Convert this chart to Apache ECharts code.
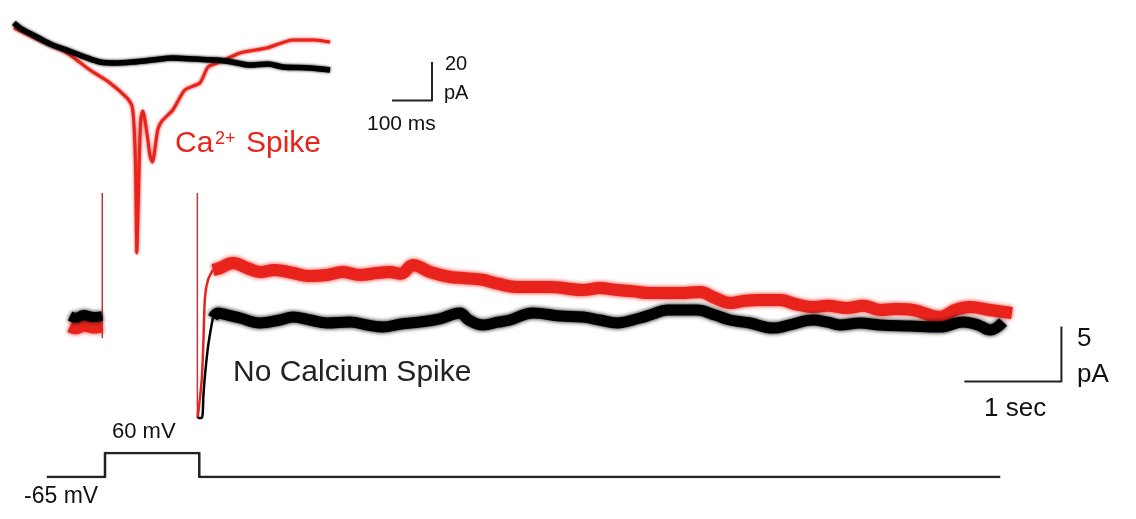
<!DOCTYPE html>
<html>
<head>
<meta charset="utf-8">
<script src="https://cdn.jsdelivr.net/npm/echarts@6/dist/echarts.min.js"></script>
<style>
  html, body { margin: 0; padding: 0; background: #fff; }
  #chart { width: 1136px; height: 519px; }
</style>
</head>
<body>
<div id="chart"></div>
<script>
// inset: [ms, pA]
const insetBlack = [
  [5, -4.7], [20, -7.3], [52, -10.9], [95, -15.6], [137, -18.8], [182, -22.4],
  [220, -25.0], [260, -25.5], [302, -25.0], [350, -24.0], [402, -22.9], [460, -23.5],
  [512, -24.0], [550, -25.0], [595, -26.6], [640, -26.0], [677, -27.6], [745, -28.1], [795, -29.2]
];
const insetRed = [
  [5, -7.3], [52, -12.0], [137, -20.3], [195, -29.2], [245, -35.9], [288, -43.8],
  [300, -47.9], [305, -57.8], [309, -81.3], [312, -124.5], [316, -96.4],
  [319, -70.3], [322, -54.7], [327, -50.5], [332, -54.7], [340, -66.1],
  [345, -73.9], [351, -77.1], [355, -73.9], [360, -66.1], [365, -59.9],
  [375, -55.7], [402, -50.0], [432, -39.6], [470, -35.9], [490, -27.6],
  [520, -25.0], [570, -20.3], [637, -17.7], [702, -13.5], [757, -13.5], [795, -14.6]
];
// main traces: [s, pA]
const mainBlackBase = [[-0.36, 0.36], [-0.3, 0.2], [-0.22, 0.45], [-0.12, 0.27], [-0.03, 0.36]];
const mainRedBase = [[-0.36, -0.55], [-0.3, -0.7], [-0.22, -0.45], [-0.12, -0.64], [-0.03, -0.55]];
const mainRedFast = [[0.955, -8.9], [0.997, -5.45], [1.015, -1.82], [1.031, 2.09], [1.062, 3.64], [1.113, 4.55]];
const mainBlackFast = [[0.955, -8.9], [0.997, -8.9], [1.015, -6.8], [1.031, -5.0], [1.062, -2.45], [1.093, -0.73], [1.113, 0.2]];
const mainRed = [
  [1.113, 4.55], [1.186, 4.73], [1.32, 5.18], [1.464, 4.73], [1.598, 4.36], [1.75, 4.55], [1.938, 4.27],
  [2.1, 4.0], [2.289, 4.09], [2.45, 4.36], [2.629, 4.09], [2.8, 4.27], [2.938, 4.36], [3.05, 4.2],
  [3.175, 5.0], [3.25, 4.8], [3.351, 4.36], [3.557, 3.91], [3.72, 3.8],
  [3.897, 3.64], [4.05, 3.3], [4.247, 3.0], [4.588, 3.0], [4.928, 2.73], [5.1, 2.9], [5.278, 2.73], [5.45, 2.6], [5.619, 2.45],
  [5.928, 2.45], [6.134, 2.55], [6.289, 2.0], [6.443, 1.55], [6.6, 1.75], [6.753, 1.82], [6.959, 1.82],
  [7.12, 1.45], [7.299, 1.18], [7.45, 1.3], [7.649, 1.09], [7.82, 1.3], [7.99, 0.91], [8.15, 1.0], [8.33, 0.91], [8.608, 0.27], [8.763, 0.91],
  [8.918, 1.18], [9.124, 0.91], [9.35, 0.64]
];
const mainBlack = [
  [1.113, 0.2], [1.165, 0.64], [1.216, 0.55], [1.392, 0.18], [1.598, -0.27], [1.804, 0],
  [1.938, 0.27], [2.113, 0], [2.289, -0.27], [2.526, -0.18], [2.7, -0.45], [2.866, -0.64], [3.05, -0.36], [3.247, -0.18],
  [3.45, 0.1], [3.66, 0.64], [3.75, 0], [3.897, -0.45], [4.05, -0.2], [4.175, 0], [4.412, 0.64], [4.691, 0.36], [4.928, 0.27],
  [5.1, 0], [5.278, -0.27], [5.515, 0.18], [5.65, 0.55], [5.794, 0.91], [6.103, 0.91], [6.289, 0.45], [6.443, 0],
  [6.649, -0.27], [6.887, -0.73], [7.062, -0.45], [7.299, 0], [7.45, -0.2], [7.577, -0.45], [7.784, -0.27],
  [7.99, -0.45], [8.299, -0.55], [8.608, -0.64], [8.845, -0.18], [9.0, -0.45], [9.124, -0.91], [9.258, -0.18]
];
const artifactOn = [[-0.028, 11.55], [-0.028, -1.64]];
const artifactOff = [[0.952, 11.55], [0.952, -8.9]];
// command voltage: [s, mV]
const voltage = [[-0.6, -65], [0, -65], [0, 60], [0.972, 60], [0.972, -65], [9.23, -65]];
// scale bars
const insetBar = [[950, -45], [1050, -45], [1050, -25]];
const mainBar = [[8.86, -5.6], [9.86, -5.6], [9.86, -0.6]];

const RED = '#e8231c';
const font = '"Liberation Sans", Arial, sans-serif';

function line(name, data, x, color, width, blur, z, smooth) {
  return {
    name: name, type: 'line', data: data, xAxisIndex: x, yAxisIndex: x,
    symbol: 'none', silent: true, z: z || 2, smooth: smooth || false,
    lineStyle: { color: color, width: width, join: 'round', cap: 'butt',
      shadowBlur: blur || 0, shadowColor: color }
  };
}
function txt(text, x, y, size, color) {
  return { type: 'text', x: x, y: y, silent: true,
    style: { text: text, font: size + 'px ' + font, fill: color, verticalAlign: 'middle', align: 'left' } };
}

let myChart = echarts.init(document.getElementById('chart'));
myChart.setOption({
  animation: false,
  backgroundColor: '#fff',
  grid: [
    { left: 12, top: 14, width: 440, height: 240 },
    { left: 8, top: 177, width: 1067, height: 330 },
    { left: 8, top: 453, width: 1067, height: 24 }
  ],
  xAxis: [
    { type: 'value', gridIndex: 0, min: 0, max: 1100, show: false },
    { type: 'value', gridIndex: 1, min: -1, max: 10, show: false },
    { type: 'value', gridIndex: 2, min: -1, max: 10, show: false }
  ],
  yAxis: [
    { type: 'value', gridIndex: 0, min: -125, max: 0, show: false },
    { type: 'value', gridIndex: 1, min: -17, max: 13, show: false },
    { type: 'value', gridIndex: 2, min: -65, max: 60, show: false }
  ],
  series: [
    // inset
    line('insetRed', insetRed, 0, RED, 3, 3, 3, 0.2),
    line('insetBlack', insetBlack, 0, '#000', 5.5, 3, 5, 0.3),
    line('insetBar', insetBar, 0, '#222', 2, 0, 5),
    // main
    line('artOn', artifactOn, 1, '#b83a3a', 1.5, 0, 2),
    line('artOff', artifactOff, 1, '#b83a3a', 1.5, 0, 2),
    line('redBase', mainRedBase, 1, RED, 13, 4, 3, 0.4),
    line('redFast', mainRedFast, 1, RED, 2.5, 0, 3, 0.3),
    line('red', mainRed, 1, RED, 12, 4, 3, 0.4),
    line('blackBase', mainBlackBase, 1, '#000', 10, 4, 4, 0.4),
    line('blackFast', mainBlackFast, 1, '#000', 2.5, 0, 4, 0.3),
    line('black', mainBlack, 1, '#000', 11, 4, 4, 0.4),
    line('mainBar', mainBar, 1, '#222', 2, 0, 5),
    // voltage step
    line('voltage', voltage, 2, '#222', 2.5, 0, 5)
  ],
  graphic: [
    txt('Ca', 175, 144, 30, RED),
    txt('2+', 215, 139, 18, RED),
    txt('Spike', 246, 144, 30, RED),
    txt('No Calcium Spike', 233, 373, 30, '#222'),
    txt('20', 445, 64, 20, '#111'),
    txt('pA', 444, 93, 20, '#111'),
    txt('100 ms', 367, 124, 21, '#111'),
    txt('5', 1077, 339, 26, '#111'),
    txt('pA', 1077, 375, 26, '#111'),
    txt('1 sec', 984, 409, 26, '#111'),
    txt('60 mV', 112, 432, 22, '#111'),
    txt('-65 mV', 24, 497, 23, '#111')
  ]
});
window.onresize = myChart.resize;
</script>
</body>
</html>
